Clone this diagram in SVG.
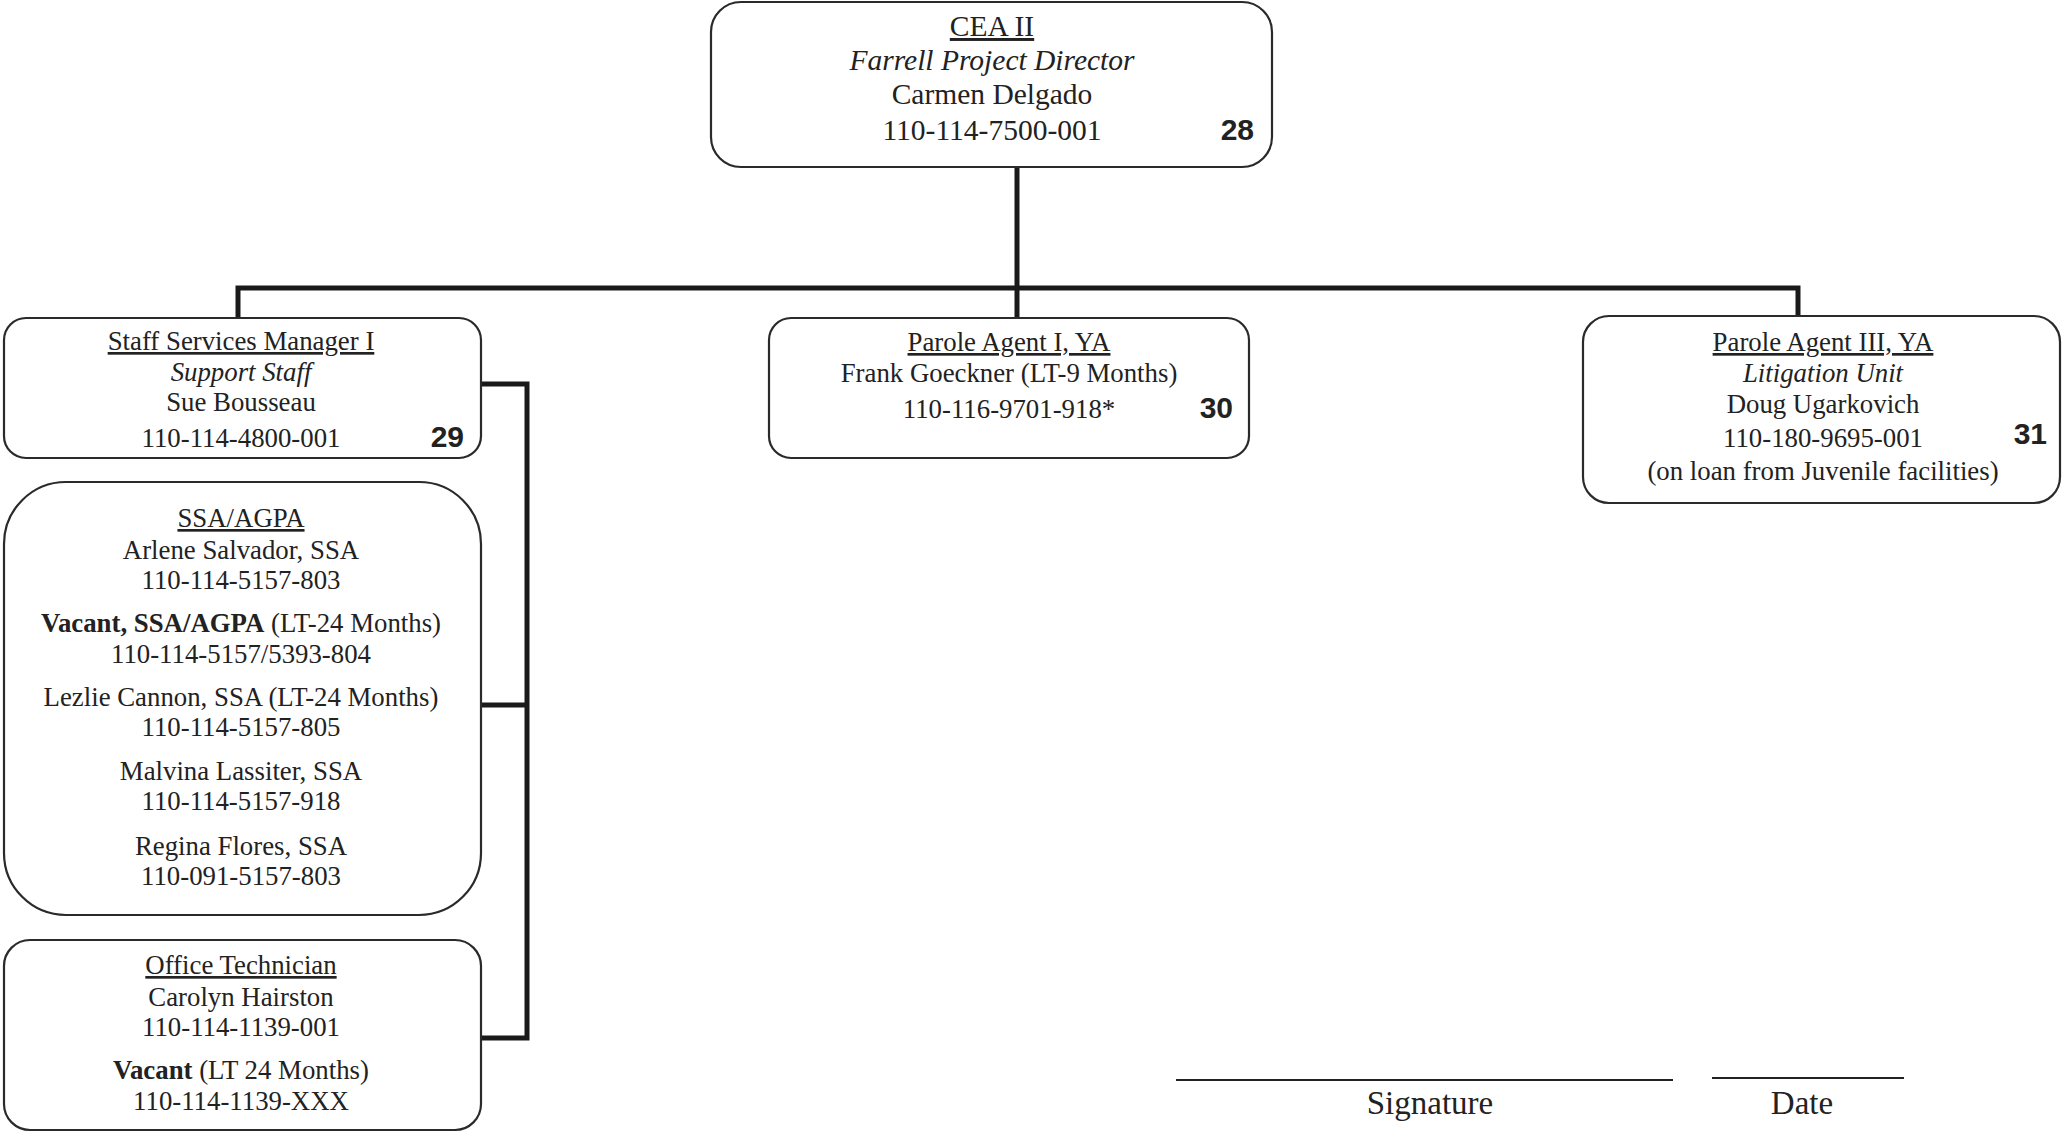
<svg xmlns="http://www.w3.org/2000/svg" width="2062" height="1133" viewBox="0 0 2062 1133">
<style>
.box{fill:#fff;stroke:#2a2a2a;stroke-width:2.2}
.t{font-family:"Liberation Serif","Times New Roman",serif;font-size:26.8px;fill:#222;text-anchor:middle}
.big{font-size:29.5px}
.sg{font-size:33px}
.u{text-decoration:underline}
.i{font-style:italic}
.b{font-weight:bold}
.num{font-family:"Liberation Sans",Arial,sans-serif;font-weight:bold;font-size:30px;fill:#222;text-anchor:end}
.c{fill:none;stroke:#1a1a1a;stroke-width:5;stroke-linecap:square}
.sig{stroke:#222;stroke-width:2}
</style>
<g id="connectors">
<path class="c" d="M1017 168 V288 M238 288 H1798 M238 288 V317 M1017 288 V318 M1798 288 V316"/>
<path class="c" d="M483 384 H527 V1038 H483 M483 705 H527"/>
</g>
<g id="cea">
<rect class="box" x="711" y="2" width="561" height="165" rx="30"/>
<text class="t big u" x="992" y="36">CEA II</text>
<text class="t big i" x="992" y="70">Farrell Project Director</text>
<text class="t big" x="992" y="104">Carmen Delgado</text>
<text class="t big" x="992" y="140">110-114-7500-001</text>
<text class="num" x="1254" y="140">28</text>
</g>
<g id="ssm">
<rect class="box" x="4" y="318" width="477" height="140" rx="22"/>
<text class="t u" x="241" y="350">Staff Services Manager I</text>
<text class="t i" x="241" y="381">Support Staff</text>
<text class="t" x="241" y="411">Sue Bousseau</text>
<text class="t" x="241" y="447">110-114-4800-001</text>
<text class="num" x="464" y="447">29</text>
</g>
<g id="pa1">
<rect class="box" x="769" y="318" width="480" height="140" rx="22"/>
<text class="t u" x="1009" y="351">Parole Agent I, YA</text>
<text class="t" x="1009" y="382">Frank Goeckner (LT-9 Months)</text>
<text class="t" x="1009" y="418">110-116-9701-918*</text>
<text class="num" x="1233" y="418">30</text>
</g>
<g id="pa3">
<rect class="box" x="1583" y="316" width="477" height="187" rx="26"/>
<text class="t u" x="1823" y="351">Parole Agent III, YA</text>
<text class="t i" x="1823" y="382">Litigation Unit</text>
<text class="t" x="1823" y="413">Doug Ugarkovich</text>
<text class="t" x="1823" y="447">110-180-9695-001</text>
<text class="num" x="2047" y="444">31</text>
<text class="t" x="1823" y="480">(on loan from Juvenile facilities)</text>
</g>
<g id="ssa">
<rect class="box" x="4" y="482" width="477" height="433" rx="62"/>
<text class="t u" x="241" y="527">SSA/AGPA</text>
<text class="t" x="241" y="559">Arlene Salvador, SSA</text>
<text class="t" x="241" y="589">110-114-5157-803</text>
<text class="t" x="241" y="632"><tspan class="b">Vacant, SSA/AGPA</tspan> (LT-24 Months)</text>
<text class="t" x="241" y="663">110-114-5157/5393-804</text>
<text class="t" x="241" y="706">Lezlie Cannon, SSA (LT-24 Months)</text>
<text class="t" x="241" y="736">110-114-5157-805</text>
<text class="t" x="241" y="780">Malvina Lassiter, SSA</text>
<text class="t" x="241" y="810">110-114-5157-918</text>
<text class="t" x="241" y="855">Regina Flores, SSA</text>
<text class="t" x="241" y="885">110-091-5157-803</text>
</g>
<g id="ot">
<rect class="box" x="4" y="940" width="477" height="190" rx="26"/>
<text class="t u" x="241" y="974">Office Technician</text>
<text class="t" x="241" y="1006">Carolyn Hairston</text>
<text class="t" x="241" y="1036">110-114-1139-001</text>
<text class="t" x="241" y="1079"><tspan class="b">Vacant</tspan> (LT 24 Months)</text>
<text class="t" x="241" y="1110">110-114-1139-XXX</text>
</g>
<g id="signature">
<line class="sig" x1="1176" y1="1080" x2="1673" y2="1080"/>
<line class="sig" x1="1712" y1="1078" x2="1904" y2="1078"/>
<text class="t sg" x="1430" y="1114">Signature</text>
<text class="t sg" x="1802" y="1114">Date</text>
</g>
</svg>
